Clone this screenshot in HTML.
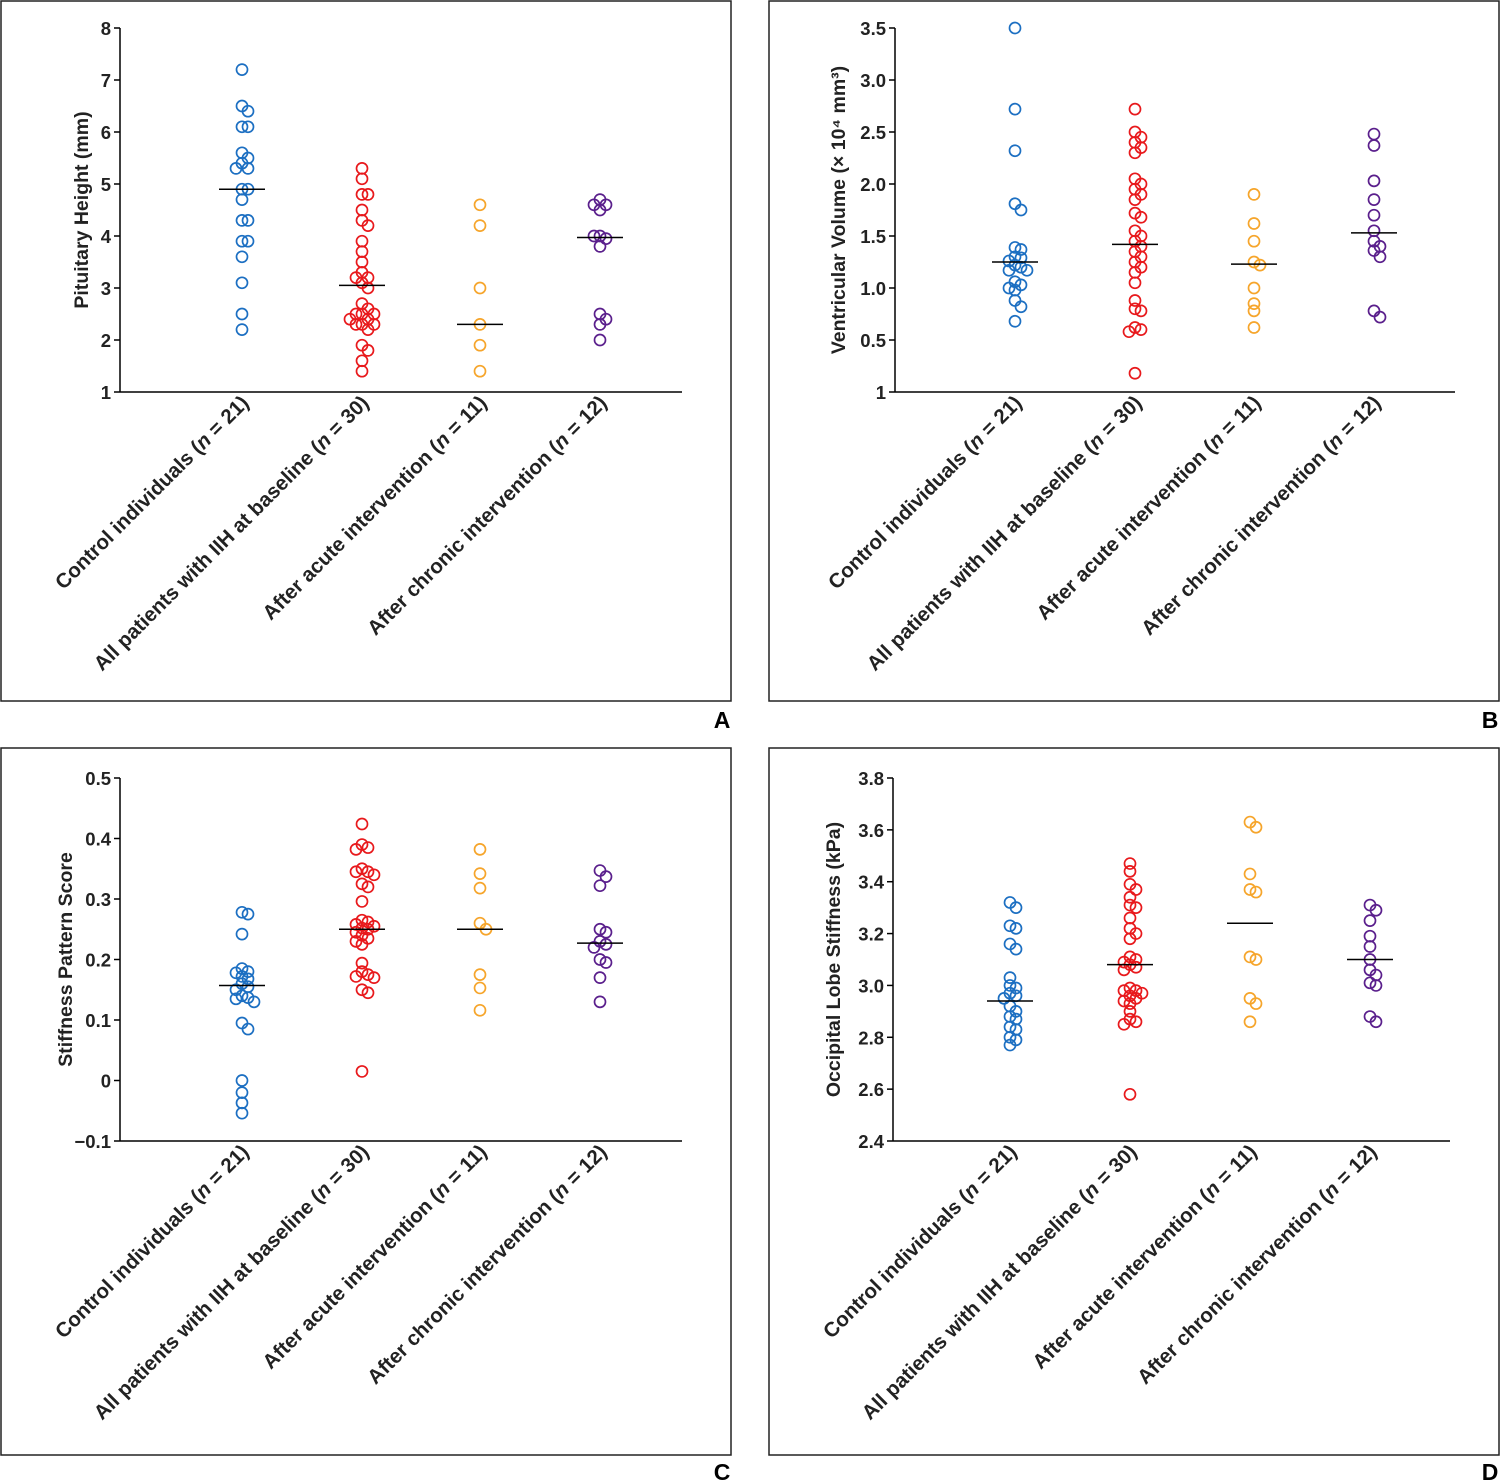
<!DOCTYPE html>
<html><head><meta charset="utf-8"><style>
html,body{margin:0;padding:0;background:#fff;}
svg{display:block;font-family:"Liberation Sans",Arial,sans-serif;}
</style></head><body>
<svg id="chart" width="1500" height="1482" viewBox="0 0 1500 1482" xmlns="http://www.w3.org/2000/svg"></svg>
<script>
const categories = ["Control individuals", "All patients with IIH at baseline", "After acute intervention", "After chronic intervention"];
const groupSizes = [21, 30, 11, 12];
const colors = ["#1c6fc2", "#e8191c", "#f6a52b", "#5a1f8c"];

const heightCtrl = [7.2,6.5,6.4,6.1,6.1,5.6,5.5,5.4,5.3,5.3,4.9,4.9,4.7,4.3,4.3,3.9,3.9,3.6,3.1,2.5,2.2];
const heightIIH = [5.3,5.1,4.8,4.8,4.5,4.3,4.2,3.9,3.7,3.5,3.3,3.2,3.2,3.1,3.0,2.7,2.6,2.5,2.5,2.5,2.4,2.4,2.3,2.3,2.3,2.2,1.9,1.8,1.6,1.4];
const heightAcute = [4.6,4.2,3.0,2.3,1.9,1.4];
const heightChronic = [4.7,4.6,4.6,4.5,4.0,3.95,4.0,3.8,2.5,2.4,2.3,2.0];
const heightMedians = [4.9,3.05,2.3,3.97];

const volCtrl = [3.5,2.72,2.32,1.81,1.75,1.39,1.37,1.3,1.29,1.26,1.22,1.2,1.17,1.17,1.06,1.03,1.0,0.98,0.88,0.82,0.68];
const volIIH = [2.72,2.5,2.45,2.4,2.35,2.3,2.05,2.0,1.95,1.9,1.85,1.72,1.68,1.55,1.5,1.45,1.4,1.35,1.3,1.25,1.2,1.15,1.05,0.88,0.8,0.78,0.62,0.6,0.58,0.18];
const volAcute = [1.9,1.62,1.45,1.25,1.22,1.0,0.85,0.78,0.62];
const volChronic = [2.48,2.37,2.03,1.85,1.7,1.55,1.45,1.4,1.36,1.3,0.78,0.72];
const volMedians = [1.25,1.42,1.23,1.53];

const stiffCtrl = [0.278,0.275,0.242,0.185,0.18,0.178,0.172,0.168,0.16,0.155,0.15,0.14,0.137,0.135,0.13,0.095,0.085,0.0,-0.02,-0.037,-0.054];
const stiffIIH = [0.424,0.39,0.385,0.382,0.35,0.345,0.345,0.34,0.325,0.32,0.296,0.265,0.262,0.258,0.255,0.252,0.25,0.245,0.24,0.235,0.23,0.225,0.194,0.18,0.175,0.172,0.17,0.15,0.145,0.015];
const stiffAcute = [0.382,0.342,0.318,0.26,0.25,0.175,0.153,0.116];
const stiffChronic = [0.347,0.337,0.322,0.25,0.245,0.23,0.225,0.22,0.2,0.195,0.17,0.13];
const stiffMedians = [0.157,0.25,0.25,0.227];

const occCtrl = [3.32,3.3,3.23,3.22,3.16,3.14,3.03,3.0,2.99,2.97,2.96,2.95,2.92,2.9,2.88,2.87,2.84,2.83,2.8,2.79,2.77];
const occIIH = [3.47,3.44,3.39,3.37,3.34,3.31,3.3,3.26,3.22,3.2,3.18,3.11,3.1,3.09,3.08,3.07,3.06,2.99,2.98,2.98,2.97,2.96,2.95,2.94,2.93,2.9,2.87,2.86,2.85,2.58];
const occAcute = [3.63,3.61,3.43,3.37,3.36,3.11,3.1,2.95,2.93,2.86];
const occChronic = [3.31,3.29,3.25,3.19,3.15,3.1,3.06,3.04,3.01,3.0,2.88,2.86];
const occMedians = [2.94,3.08,3.24,3.1];

const heightTicks = [1,2,3,4,5,6,7,8];
const volTicks = [0,0.5,1.0,1.5,2.0,2.5,3.0,3.5];
const volTickLabels = ["1","0.5","1.0","1.5","2.0","2.5","3.0","3.5"];
const stiffTicks = [-0.1,0,0.1,0.2,0.3,0.4,0.5];
const stiffTickLabels = ["\u22120.1","0","0.1","0.2","0.3","0.4","0.5"];
const occTicks = [2.4,2.6,2.8,3.0,3.2,3.4,3.6,3.8];

const NS = "http://www.w3.org/2000/svg";
const svg = document.getElementById("chart");
function mk(tag, attrs, parent) {
  const e = document.createElementNS(NS, tag);
  for (const k in attrs) e.setAttribute(k, attrs[k]);
  (parent || svg).appendChild(e);
  return e;
}

const panels = [
  {id:"a", letter:"A", box:[1,1,730,700], lx:722, ly:728, x0:120, x1:682, yTop:28, yBot:392, min:1, max:8,
   ticks:heightTicks, tickLabels:heightTicks.map(String), cats:[242,362,480,600],
   series:[heightCtrl,heightIIH,heightAcute,heightChronic], medians:heightMedians,
   title:"Pituitary Height (mm)", titleX:88},
  {id:"b", letter:"B", box:[769,1,730,700], lx:1490, ly:728, x0:895, x1:1455, yTop:28, yBot:392, min:0, max:3.5,
   ticks:volTicks, tickLabels:volTickLabels, cats:[1015,1135,1254,1374],
   series:[volCtrl,volIIH,volAcute,volChronic], medians:volMedians,
   title:"Ventricular Volume (\u00d7 10\u2074 mm\u00b3)", titleX:845},
  {id:"c", letter:"C", box:[1,748,730,707], lx:722, ly:1480, x0:120, x1:682, yTop:778, yBot:1141, min:-0.1, max:0.5,
   ticks:stiffTicks, tickLabels:stiffTickLabels, cats:[242,362,480,600],
   series:[stiffCtrl,stiffIIH,stiffAcute,stiffChronic], medians:stiffMedians,
   title:"Stiffness Pattern Score", titleX:72},
  {id:"d", letter:"D", box:[769,748,730,707], lx:1490, ly:1480, x0:893, x1:1450, yTop:778, yBot:1141, min:2.4, max:3.8,
   ticks:occTicks, tickLabels:occTicks.map(v=>v.toFixed(1)), cats:[1010,1130,1250,1370],
   series:[occCtrl,occIIH,occAcute,occChronic], medians:occMedians,
   title:"Occipital Lobe Stiffness (kPa)", titleX:840}
];

panels.forEach(p => {
  const g = mk("g", {});
  
  
  const yScale = v => p.yBot - (v - p.min) / (p.max - p.min) * (p.yBot - p.yTop);
  const frame = mk("rect", {x:p.box[0], y:p.box[1], width:p.box[2], height:p.box[3], fill:"none", stroke:"#222", "stroke-width":1.5}, g);
  
  
  const lt = mk("text", {x:p.lx, y:p.ly, "font-size":23, "font-weight":"bold", "text-anchor":"middle", fill:"#000"}, g);
  lt.textContent = p.letter;
  
  
  const ya = mk("line", {x1:p.x0, y1:p.yTop, x2:p.x0, y2:p.yBot, stroke:"#000", "stroke-width":1.5}, g);
  
  
  const xa = mk("line", {x1:p.x0, y1:p.yBot, x2:p.x1, y2:p.yBot, stroke:"#000", "stroke-width":1.5}, g);
  
  
  p.ticks.forEach((t, i) => {
    const y = yScale(t);
    const tk = mk("line", {x1:p.x0 - 6, y1:y, x2:p.x0, y2:y, stroke:"#000", "stroke-width":1.5}, g);
    
    
    const tl = mk("text", {x:p.x0 - 9, y:y + 7, "font-size":18.5, "font-weight":"bold", "text-anchor":"end", fill:"#222"}, g);
    tl.textContent = p.tickLabels[i];
    
    
  });
  const ty = (p.yTop + p.yBot) / 2;
  const tt = mk("text", {x:p.titleX, y:ty, "font-size":19.5, "font-weight":"bold", "text-anchor":"middle", fill:"#222", transform:`rotate(-90 ${p.titleX} ${ty})`}, g);
  tt.textContent = p.title;
  
  
  p.cats.forEach((cx, ci) => {
    const ax = cx + 8, ay = p.yBot + 12;
    const xl = mk("text", {x:ax, y:ay, "font-size":20.5, "font-weight":"bold", "text-anchor":"end", fill:"#222", transform:`rotate(-45 ${ax} ${ay})`}, g);
    
    
    const t1 = mk("tspan", {}, xl); t1.textContent = categories[ci] + " (";
    const t2 = mk("tspan", {"font-style":"italic"}, xl); t2.textContent = "n";
    const t3 = mk("tspan", {}, xl); t3.textContent = " = " + groupSizes[ci] + ")";
    const vals = p.series[ci];
    const placed = [];
    vals.forEach(v => {
      const y = yScale(v);
      const offs = [0, 6, -6, 12, -12, 18, -18];
      let off = 0;
      for (let k = 0; k < offs.length; k++) {
        off = offs[k];
        if (!placed.some(q => Math.abs(q.y - y) < 7 && Math.abs(q.x - off) < 6)) break;
      }
      placed.push({x:off, y:y});
      const c = mk("circle", {cx:cx + off, cy:y, r:5.5, fill:"none", stroke:colors[ci], "stroke-width":1.7}, g);
      
      
    });
    const my = yScale(p.medians[ci]);
    const ml = mk("line", {x1:cx - 23, y1:my, x2:cx + 23, y2:my, stroke:"#000", "stroke-width":1.5}, g);
    
    
  });
});
</script>
</body></html>
